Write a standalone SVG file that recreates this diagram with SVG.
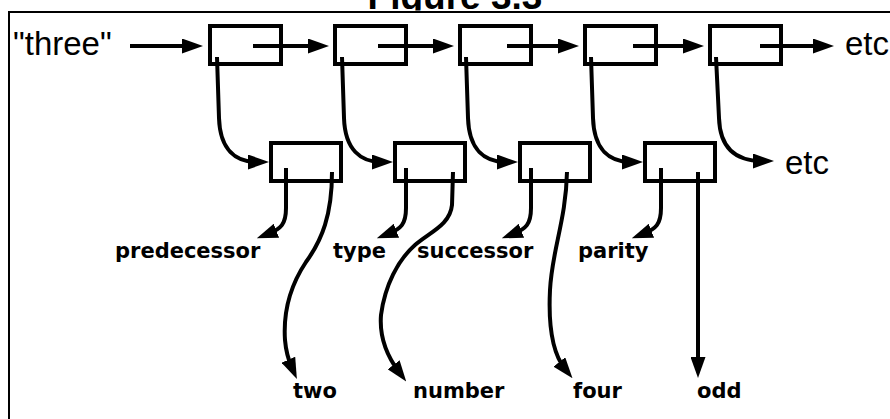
<svg xmlns="http://www.w3.org/2000/svg" width="890" height="419" viewBox="0 0 890 419">
<style>
.box{fill:#fff;stroke:#000;stroke-width:4}
.con{fill:none;stroke:#000;stroke-width:4;marker-end:url(#ah)}
.big{font-family:"Liberation Sans",Arial,sans-serif;font-size:33px;fill:#000}
.lbl{font-family:"DejaVu Sans",Verdana,sans-serif;font-weight:bold;font-size:21px;fill:#000}
.ttl{font-family:"Liberation Sans",Arial,sans-serif;font-weight:bold;font-size:37px;fill:#000}
</style>
<defs>
<marker id="ah" viewBox="0 0 21 15" refX="9" refY="7.5" markerWidth="21" markerHeight="15" markerUnits="userSpaceOnUse" orient="auto">
<path d="M0,0 L21,7.5 L0,15 Z" fill="#000"/>
</marker>
<clipPath id="tclip"><rect x="0" y="0" width="890" height="10.5"/></clipPath>
</defs>
<rect width="890" height="419" fill="#fff"/>
<g id="title" clip-path="url(#tclip)"><text class="ttl" x="455" y="9" text-anchor="middle">Figure 3.3</text></g>
<path id="frame" d="M9,419 V12 H890" fill="none" stroke="#000" stroke-width="2"/>

<g id="n-three"><text class="big" x="13" y="55">"three"</text></g>
<g id="n-top1"><rect class="box" x="210" y="26" width="71" height="38"/></g>
<g id="n-top2"><rect class="box" x="335" y="26" width="71" height="38"/></g>
<g id="n-top3"><rect class="box" x="460" y="26" width="71" height="38"/></g>
<g id="n-top4"><rect class="box" x="585" y="26" width="71" height="38"/></g>
<g id="n-top5"><rect class="box" x="710" y="26" width="71" height="38"/></g>
<g id="n-etc1"><text class="big" x="845" y="55">etc</text></g>
<g id="n-bot1"><rect class="box" x="271" y="143" width="70" height="38"/></g>
<g id="n-bot2"><rect class="box" x="395" y="143" width="70" height="38"/></g>
<g id="n-bot3"><rect class="box" x="520" y="143" width="70" height="38"/></g>
<g id="n-bot4"><rect class="box" x="645" y="143" width="70" height="38"/></g>
<g id="n-etc2"><text class="big" x="785" y="174">etc</text></g>
<g id="n-predecessor"><text class="lbl" x="115" y="258">predecessor</text></g>
<g id="n-type"><text class="lbl" x="333" y="258">type</text></g>
<g id="n-successor"><text class="lbl" x="417" y="258">successor</text></g>
<g id="n-parity"><text class="lbl" x="578" y="258">parity</text></g>
<g id="n-two"><text class="lbl" x="293" y="398">two</text></g>
<g id="n-number"><text class="lbl" x="413" y="398">number</text></g>
<g id="n-four"><text class="lbl" x="573" y="398">four</text></g>
<g id="n-odd"><text class="lbl" x="697" y="398">odd</text></g>

<g id="connectors">
<path class="con" d="M130,46 H191"/>
<path class="con" d="M253,46 H317"/>
<path class="con" d="M378,46 H442"/>
<path class="con" d="M507,46 H567"/>
<path class="con" d="M633,46 H692"/>
<path class="con" d="M760,46 H822"/>
<path class="con" d="M217,57 L219,118 C220,150 236,162 257,162"/>
<path class="con" d="M342,57 L344,118 C345,150 361,162 381,162"/>
<path class="con" d="M466,57 L468,118 C469,150 485,162 506,162"/>
<path class="con" d="M591,57 L593,118 C594,150 610,162 631,162"/>
<path class="con" d="M716,57 L719,118 C720,150 738,161 762,161"/>
<path class="con" d="M286,168 L286,208 C286,224 281,229 268,234"/>
<path class="con" d="M406,168 L406,208 C406,224 401,229 388,234"/>
<path class="con" d="M531,168 L531,208 C531,224 526,229 513,234"/>
<path class="con" d="M661,168 L661,208 C661,224 656,229 643,234"/>
<path class="con" d="M332,172 C332,215 322,240 306,262 C292,283 283,310 285,340 C286,352 288,359 292,368"/>
<path class="con" d="M453,172 L452,205 C450,225 430,232 415,245 C398,260 385,285 381,315 C379,340 390,360 399,372"/>
<path class="con" d="M567,172 C566,220 552,250 550,290 C548,330 553,354 565,369"/>
<path class="con" d="M698,172 L698,366"/>
</g>
</svg>
